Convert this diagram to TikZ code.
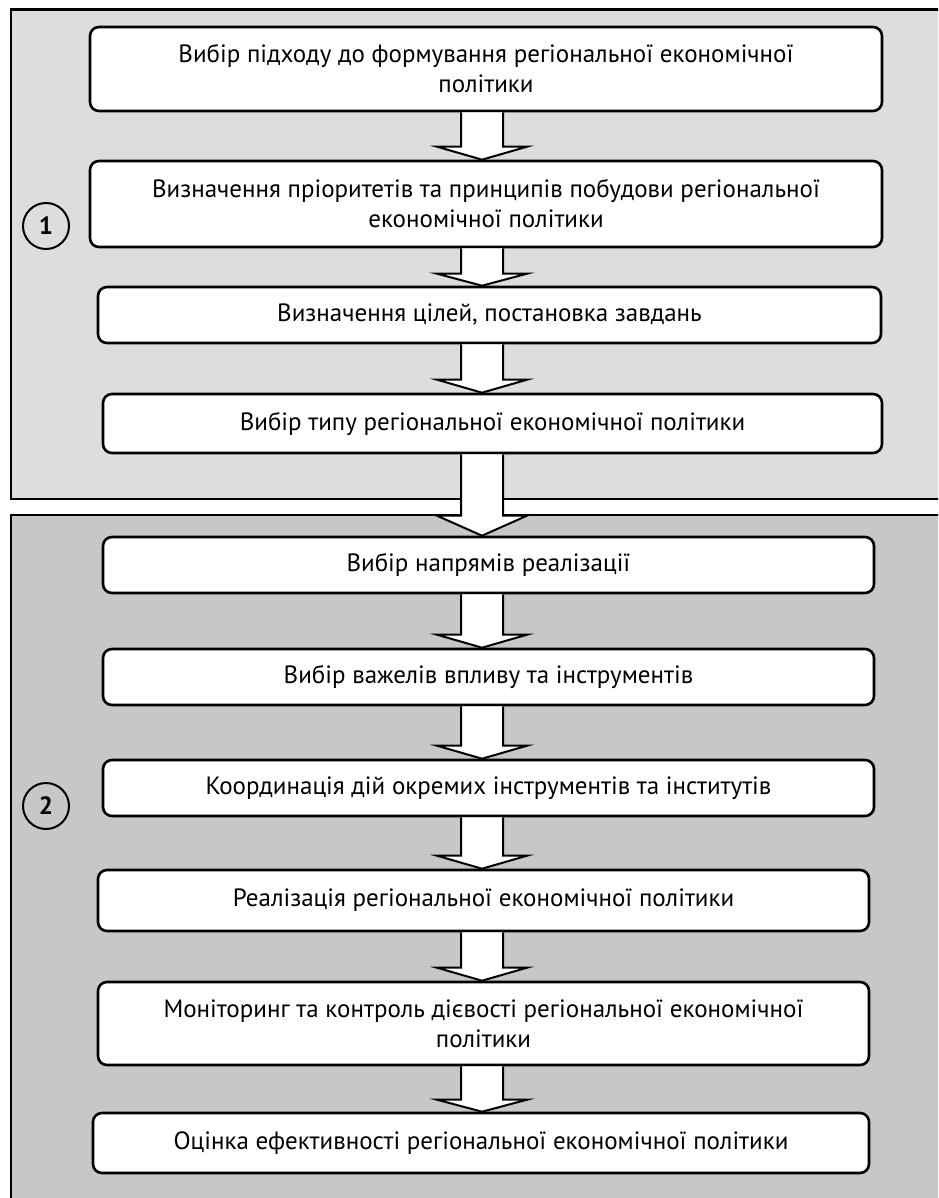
\documentclass[tikz,border=0pt]{standalone}
\usepackage{fontspec}
\setmainfont{PT Sans}
\usetikzlibrary{calc}
\definecolor{paneltop}{RGB}{220,221,223}
\definecolor{panelbottom}{RGB}{198,199,201}
% hollow block arrow between two boxes, #3 = height of the head
\newcommand{\flowarrow}[3]{%
  \filldraw[blockarr] ($(axis |- #1.south)+(-21,0)$) -- ($(axis |- #2.north)+(-21,-#3)$)
    -- ++(-24,0) -- (axis |- #2.north) -- ($(axis |- #2.north)+(45,-#3)$)
    -- ++(-24,0) -- ($(axis |- #1.south)+(21,0)$);}

\begin{document}
\begin{tikzpicture}[x=1pt,y=-1pt,
    stepbox/.style={draw,fill=white,rounded corners=9pt,line width=2.6pt,inner sep=0pt,
      align=center,font=\fontsize{25}{30}\selectfont},
    stage/.style={draw,circle,line width=2pt,minimum size=46pt,inner sep=0pt,
      font=\fontsize{25}{25}\selectfont\bfseries},
    blockarr/.style={fill=white,draw,line width=2pt,line join=miter}]
    \useasboundingbox (0,0) rectangle (938,1198);
    \clip (0,0) rectangle (938,1198);
    % the two stages
    \draw[fill=paneltop,line width=2.6pt] (11,9.5) rectangle (960,499);
    \draw[fill=panelbottom,line width=2.6pt] (11,515) rectangle (960,1220);
    \coordinate (axis) at (482,0);
    \node[stage] (stage1) at (46,226) {1};
    \node[stage] (stage2) at (46,806) {2};
    % stage 1
    \node[stepbox,minimum width=792,minimum height=84] (approach) at (486,69)
        {Вибір підходу до формування регіональної економічної\\політики};
    \node[stepbox,minimum width=792,minimum height=86] (priorities) at (486,204)
        {Визначення пріоритетів та принципів побудови регіональної\\економічної політики};
    \node[stepbox,minimum width=783,minimum height=56] (goals) at (489.5,315)
        {Визначення цілей, постановка завдань};
    \node[stepbox,minimum width=779,minimum height=59] (kind) at (492.5,423.5)
        {Вибір типу регіональної економічної політики};
    % stage 2
    \node[stepbox,minimum width=771,minimum height=56] (directions) at (488.5,565)
        {Вибір напрямів реалізації};
    \node[stepbox,minimum width=771,minimum height=56] (levers) at (488.5,677)
        {Вибір важелів впливу та інструментів};
    \node[stepbox,minimum width=771,minimum height=56] (coordination) at (488.5,788)
        {Координація дій окремих інструментів та інститутів};
    \node[stepbox,minimum width=771,minimum height=61] (realization) at (483.5,900.5)
        {Реалізація регіональної економічної політики};
    \node[stepbox,minimum width=771,minimum height=83] (monitoring) at (483.5,1023.5)
        {Моніторинг та контроль дієвості регіональної економічної\\політики};
    \node[stepbox,minimum width=776,minimum height=60] (evaluation) at (481,1143)
        {Оцінка ефективності регіональної економічної політики};
    % arrows
    \flowarrow{approach}{priorities}{13}
    \flowarrow{priorities}{goals}{12}
    \flowarrow{goals}{kind}{13}
    \flowarrow{kind}{directions}{20}
    \flowarrow{directions}{levers}{13}
    \flowarrow{levers}{coordination}{13}
    \flowarrow{coordination}{realization}{13}
    \flowarrow{realization}{monitoring}{13}
    \flowarrow{monitoring}{evaluation}{12}
\end{tikzpicture}
\end{document}
